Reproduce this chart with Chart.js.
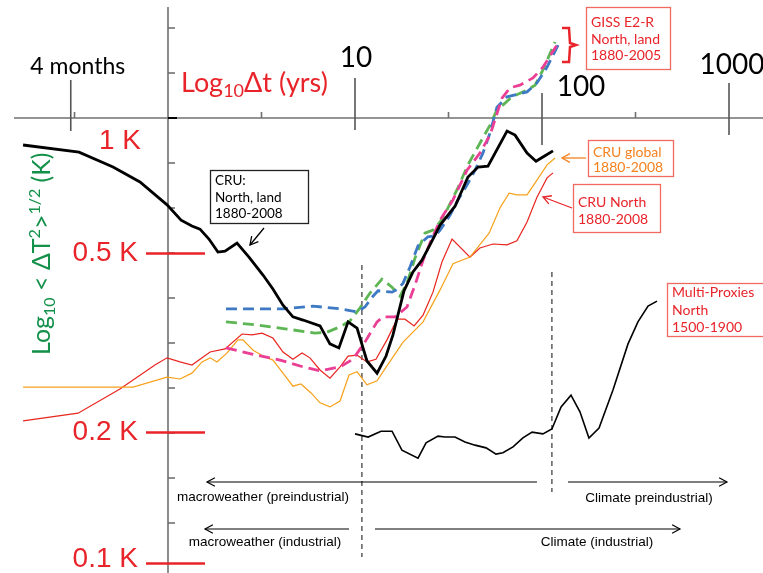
<!DOCTYPE html>
<html><head><meta charset="utf-8">
<script src="https://cdn.jsdelivr.net/npm/chart.js@4.4.1/dist/chart.umd.min.js"></script>
<style>html,body{margin:0;padding:0;background:#fff;}#wrap{width:763px;height:573px;position:relative;}</style>
</head><body><div id="wrap"><canvas id="c"></canvas></div>
<script>
// All values are log10: x = log10(Δt in years), y = log10(RMS ΔT in K)
const cruNorthLandX = [-0.775,-0.476,-0.294,-0.150,-0.005,0.070,0.128,0.171,0.219,0.267,0.305,0.369,0.433,0.508,0.561,0.615,0.668,0.722,0.813,0.866,0.914,0.963,1.011,1.064,1.118,1.166,1.203,1.262,1.310,1.358,1.401,1.455,1.535,1.604,1.658,1.711,1.813,1.856,1.920,1.968,2.016,2.059];
const cruNorthLandY = [-0.060,-0.076,-0.109,-0.142,-0.193,-0.227,-0.240,-0.247,-0.269,-0.298,-0.296,-0.278,-0.309,-0.349,-0.380,-0.416,-0.442,-0.449,-0.462,-0.502,-0.511,-0.453,-0.467,-0.540,-0.567,-0.529,-0.482,-0.384,-0.342,-0.316,-0.282,-0.238,-0.196,-0.131,-0.109,-0.107,-0.029,-0.038,-0.078,-0.096,-0.084,-0.073];

const cruGlobalX = [-0.775,-0.187,-0.005,0.064,0.128,0.182,0.225,0.262,0.316,0.374,0.401,0.455,0.508,0.561,0.615,0.668,0.711,0.765,0.813,0.866,0.920,0.968,1.011,1.064,1.118,1.171,1.257,1.364,1.455,1.524,1.615,1.717,1.775,1.824,1.866,1.920,1.973,2.027,2.070];
const cruGlobalY = [-0.598,-0.598,-0.576,-0.580,-0.567,-0.542,-0.533,-0.542,-0.522,-0.493,-0.493,-0.516,-0.529,-0.538,-0.567,-0.596,-0.591,-0.611,-0.633,-0.642,-0.629,-0.571,-0.564,-0.593,-0.584,-0.551,-0.498,-0.453,-0.382,-0.324,-0.309,-0.256,-0.200,-0.167,-0.171,-0.171,-0.138,-0.104,-0.089];

const cruNorthX = [-0.775,-0.481,-0.257,-0.070,-0.005,0.064,0.128,0.225,0.305,0.396,0.449,0.503,0.561,0.615,0.668,0.717,0.759,0.813,0.866,0.920,0.963,1.011,1.064,1.112,1.171,1.225,1.267,1.316,1.364,1.417,1.465,1.519,1.615,1.668,1.738,1.813,1.866,1.920,1.973,2.027,2.059];
const cruNorthY = [-0.673,-0.656,-0.602,-0.549,-0.533,-0.542,-0.549,-0.520,-0.513,-0.480,-0.482,-0.478,-0.489,-0.520,-0.536,-0.522,-0.533,-0.560,-0.578,-0.553,-0.529,-0.527,-0.542,-0.536,-0.493,-0.447,-0.447,-0.462,-0.438,-0.387,-0.320,-0.269,-0.309,-0.289,-0.280,-0.282,-0.273,-0.231,-0.176,-0.133,-0.122];

const gissPinkX = [0.310,0.476,0.599,0.722,0.813,0.920,0.989,1.053,1.118,1.150,1.214,1.278,1.321,1.364,1.401,1.455,1.524,1.599,1.668,1.722,1.786,1.829,1.882,1.952,2.005,2.080];
const gissPinkY = [-0.511,-0.527,-0.538,-0.553,-0.562,-0.553,-0.536,-0.498,-0.453,-0.442,-0.442,-0.420,-0.371,-0.316,-0.278,-0.227,-0.182,-0.116,-0.078,-0.038,0.044,0.067,0.073,0.089,0.113,0.162];

const gissBlueX = [0.310,0.465,0.615,0.775,0.920,1.011,1.053,1.096,1.123,1.198,1.230,1.257,1.294,1.337,1.390,1.428,1.455,1.508,1.551,1.599,1.642,1.684,1.722,1.759,1.813,1.920,1.973,2.027,2.086];
const gissBlueY = [-0.424,-0.424,-0.424,-0.418,-0.424,-0.431,-0.420,-0.396,-0.384,-0.387,-0.380,-0.367,-0.331,-0.284,-0.264,-0.262,-0.249,-0.216,-0.182,-0.149,-0.116,-0.078,-0.033,0.024,0.047,0.058,0.078,0.113,0.162];

const gissGreenX = [0.310,0.476,0.636,0.786,0.850,0.920,0.973,1.027,1.080,1.144,1.198,1.241,1.278,1.321,1.374,1.417,1.455,1.492,1.545,1.604,1.668,1.722,1.759,1.786,1.840,1.920,1.963,2.005,2.070];
const gissGreenY = [-0.453,-0.460,-0.469,-0.478,-0.476,-0.464,-0.451,-0.422,-0.389,-0.358,-0.376,-0.396,-0.367,-0.311,-0.256,-0.249,-0.231,-0.204,-0.160,-0.104,-0.056,-0.016,0.018,0.027,0.047,0.062,0.073,0.107,0.169];

const proxiesX = [1.000,1.070,1.139,1.198,1.251,1.337,1.380,1.444,1.481,1.535,1.588,1.642,1.701,1.754,1.791,1.845,1.898,1.947,2.005,2.053,2.102,2.155,2.203,2.251,2.305,2.380,2.460,2.513,2.567,2.615];
const proxiesY = [-0.702,-0.709,-0.696,-0.696,-0.738,-0.756,-0.722,-0.707,-0.709,-0.709,-0.720,-0.727,-0.733,-0.747,-0.744,-0.731,-0.711,-0.698,-0.702,-0.691,-0.642,-0.616,-0.653,-0.711,-0.689,-0.604,-0.502,-0.453,-0.418,-0.407];

// axis ticks
const xMajorTicks = [-0.52, 1, 2, 3];
const xMajorLabels = ["4 months", "10", "100", "1000"];
const xMinorTicks = [-0.5, 0.5, 1.5, 2.5];
const yTicks = [0.2, 0.1, 0, -0.1, -0.2, -0.3, -0.4, -0.5, -0.6, -0.7, -0.8, -0.9];
const kMarkerVals = [-0.301, -0.699, -0.99];
const kMarkerLabels = ["0.5 K", "0.2 K", "0.1 K"];
const regimeBoundaries = [1.037, 2.053];

const X_MIN = -168/187, X_MAX = 595/187, Y_MIN = -455/450, Y_MAX = 118/450;
const pts = (xs, ys) => xs.map((v, i) => ({x: v, y: ys[i]}));

function rich(ctx, x, y, segs, align) {
  let w = 0;
  segs.forEach(s => { ctx.font = s[1]; w += ctx.measureText(s[0]).width; });
  let cx = align === 'center' ? x - w/2 : (align === 'right' ? x - w : x);
  segs.forEach(s => { ctx.font = s[1]; ctx.fillText(s[0], cx, y + (s[2] || 0)); cx += ctx.measureText(s[0]).width; });
}
function seg(ctx, pts) {
  ctx.beginPath(); ctx.moveTo(pts[0][0], pts[0][1]);
  for (let i = 1; i < pts.length; i++) ctx.lineTo(pts[i][0], pts[i][1]);
  ctx.stroke();
}
function arrow(ctx, x1, y1, x2, y2, head) {
  seg(ctx, [[x1, y1], [x2, y2]]);
  const a = Math.atan2(y2 - y1, x2 - x1), h = head || 9, s = 0.5;
  seg(ctx, [[x2 - h*Math.cos(a - s), y2 - h*Math.sin(a - s)], [x2, y2], [x2 - h*Math.cos(a + s), y2 - h*Math.sin(a + s)]]);
}
const CAL = '"Lato", "Open Sans", sans-serif';
const ARI = '"Liberation Sans", Arial, sans-serif';

const figurePlugin = {
  id: 'figure',
  beforeDatasetsDraw(chart) {
    const {ctx, scales: {x, y}} = chart;
    const X = v => x.getPixelForValue(v), Y = v => y.getPixelForValue(v);
    ctx.save();
    ctx.lineCap = 'butt';
    ctx.strokeStyle = '#707070'; ctx.lineWidth = 1.6;
    seg(ctx, [[14, Y(0)], [X(X_MAX), Y(0)]]);
    seg(ctx, [[X(0), 7], [X(0), Y(Y_MIN)]]);
    yTicks.forEach(v => seg(ctx, [[X(0), Y(v)], [X(0) + 7, Y(v)]]));
    xMinorTicks.forEach(v => seg(ctx, [[X(v), Y(0)], [X(v), Y(0) - 6]]));
    const up = [38, 40, 25, 35], dn = [13, 12, 27, 17];
    ctx.strokeStyle = '#555';
    xMajorTicks.forEach((v, i) => seg(ctx, [[X(v), Y(0) - up[i]], [X(v), Y(0) + dn[i]]]));
    ctx.strokeStyle = '#000'; ctx.lineWidth = 2;
    seg(ctx, [[X(0), Y(0)], [X(0) + 9, Y(0)]]);
    // regime boundaries
    ctx.strokeStyle = '#333'; ctx.lineWidth = 1.2; ctx.setLineDash([5, 4]);
    seg(ctx, [[X(regimeBoundaries[0]), 265], [X(regimeBoundaries[0]), 557]]);
    seg(ctx, [[X(regimeBoundaries[1]), 272], [X(regimeBoundaries[1]), 492]]);
    ctx.setLineDash([]);
    ctx.restore();
  },
  afterDatasetsDraw(chart) {
    const {ctx, scales: {x, y}} = chart;
    const X = v => x.getPixelForValue(v), Y = v => y.getPixelForValue(v);
    ctx.save();
    ctx.textBaseline = 'alphabetic';
    // x tick labels
    ctx.fillStyle = '#000';
    const lx = [7, 1, 39, 3], ly = [74, 67, 96, 74], ls = [23, 28, 28, 28];
    xMajorTicks.forEach((v, i) => rich(ctx, X(v) + lx[i], ly[i], [[xMajorLabels[i], ls[i] + 'px ' + CAL]], 'center'));
    // x title
    ctx.fillStyle = '#e8242a';
    rich(ctx, 181, 92, [['Log', '27px ' + CAL], ['10', '18px ' + CAL, 5], ['\u0394t (yrs)', '27px ' + CAL]], 'left');
    // K labels
    ctx.font = '28px ' + ARI; ctx.textAlign = 'right'; ctx.textBaseline = 'middle';
    ctx.fillText('1 K', 141, Y(0) + 23);
    ctx.strokeStyle = '#e8242a'; ctx.lineWidth = 2.5;
    kMarkerVals.forEach((v, i) => {
      ctx.fillText(kMarkerLabels[i], 138, Y(v) + (i === 2 ? -4 : 0));
      seg(ctx, [[146, Y(v)], [205, Y(v)]]);
    });
    ctx.textAlign = 'left'; ctx.textBaseline = 'alphabetic';
    // y title (rotated)
    ctx.save();
    ctx.translate(50, 355); ctx.rotate(-Math.PI/2);
    ctx.fillStyle = '#13904a';
    rich(ctx, 0, 0, [['Log', '25px ' + CAL], ['10', '16px ' + CAL, 5], [' < \u0394T', '25px ' + CAL], ['2', '16px ' + CAL, -10], ['>', '25px ' + CAL], ['1/2', '16px ' + CAL, -10], [' (K)', '25px ' + CAL]], 'left');
    ctx.restore();
    // annotation boxes
    function box(x0, y0, x1, y1, col, lines, tcol, base, step, size) {
      ctx.strokeStyle = col; ctx.lineWidth = 1.3;
      ctx.strokeRect(x0 + 0.5, y0 + 0.5, x1 - x0, y1 - y0);
      ctx.fillStyle = tcol; ctx.font = size + 'px ' + CAL;
      lines.forEach((t, i) => ctx.fillText(t, x0 + 5, base + i*step));
    }
    box(210, 170, 308, 223, '#222', ['CRU:', 'North, land', '1880-2008'], '#000', 185, 16.5, 13.5);
    box(586, 7, 670, 69, '#f06a60', ['GISS E2-R', 'North, land', '1880-2005'], '#e8242a', 27, 16.5, 14);
    box(588, 140, 673, 176, '#f06a60', ['CRU global', '1880-2008'], '#f58220', 157, 15, 14);
    box(573, 184, 660, 232, '#f06a60', ['CRU North', '1880-2008'], '#e8242a', 207, 17, 14);
    box(667, 283, 770, 336, '#f06a60', ['Multi-Proxies', 'North', '1500-1900'], '#e8242a', 297, 17.5, 14);
    // pointer arrows
    ctx.lineWidth = 1.3;
    ctx.strokeStyle = '#000'; arrow(ctx, 264, 228, 250, 245, 9);
    ctx.strokeStyle = '#f58220'; arrow(ctx, 586, 158, 562, 158, 9);
    ctx.strokeStyle = '#e8242a'; arrow(ctx, 572, 208, 543, 197, 9);
    // GISS bracket
    ctx.lineWidth = 2.5; ctx.strokeStyle = '#e8242a';
    seg(ctx, [[562, 28], [569, 28], [570, 43], [576, 45], [570, 47], [569, 62], [562, 62]]);
    // regime arrows
    ctx.strokeStyle = '#000'; ctx.lineWidth = 1.2;
    arrow(ctx, 537, 482, 207, 482, 9);
    arrow(ctx, 568, 482, 727, 482, 9);
    arrow(ctx, 349, 529, 205, 529, 9);
    arrow(ctx, 375, 529, 680, 529, 9);
    ctx.fillStyle = '#000'; ctx.font = '13.5px ' + ARI; ctx.textAlign = 'center';
    ctx.fillText('macroweather (preindustrial)', 263, 501);
    ctx.fillText('Climate preindustrial)', 649, 502);
    ctx.fillText('macroweather (industrial)', 265, 546);
    ctx.fillText('Climate (industrial)', 597, 546);
    ctx.restore();
  }
};

const dash = [11, 6];
new Chart(document.getElementById('c'), {
  type: 'scatter',
  data: {datasets: [
    {label: 'CRU North, land 1880-2008', data: pts(cruNorthLandX, cruNorthLandY), borderColor: '#000', borderWidth: 2.8, order: 1},
    {label: 'GISS E2-R (pink)', data: pts(gissPinkX, gissPinkY), borderColor: '#ea3f95', borderWidth: 2.8, borderDash: dash, order: 2},
    {label: 'GISS E2-R (blue)', data: pts(gissBlueX, gissBlueY), borderColor: '#3d79c4', borderWidth: 2.8, borderDash: dash, order: 3},
    {label: 'GISS E2-R (green)', data: pts(gissGreenX, gissGreenY), borderColor: '#5db653', borderWidth: 2.8, borderDash: dash, order: 4},
    {label: 'CRU global 1880-2008', data: pts(cruGlobalX, cruGlobalY), borderColor: '#f7a11a', borderWidth: 1.2, order: 5},
    {label: 'CRU North 1880-2008', data: pts(cruNorthX, cruNorthY), borderColor: '#e8251f', borderWidth: 1.2, order: 6},
    {label: 'Multi-Proxies North 1500-1900', data: pts(proxiesX, proxiesY), borderColor: '#000', borderWidth: 1.6, order: 7}
  ].map(d => Object.assign(d, {showLine: true, pointRadius: 0, fill: false, tension: 0}))},
  options: {
    responsive: true, maintainAspectRatio: false, animation: false,
    layout: {padding: 0},
    plugins: {legend: {display: false}, tooltip: {enabled: false}},
    scales: {
      x: {type: 'linear', display: false, min: X_MIN, max: X_MAX},
      y: {type: 'linear', display: false, min: Y_MIN, max: Y_MAX}
    }
  },
  plugins: [figurePlugin]
});
</script></body></html>
